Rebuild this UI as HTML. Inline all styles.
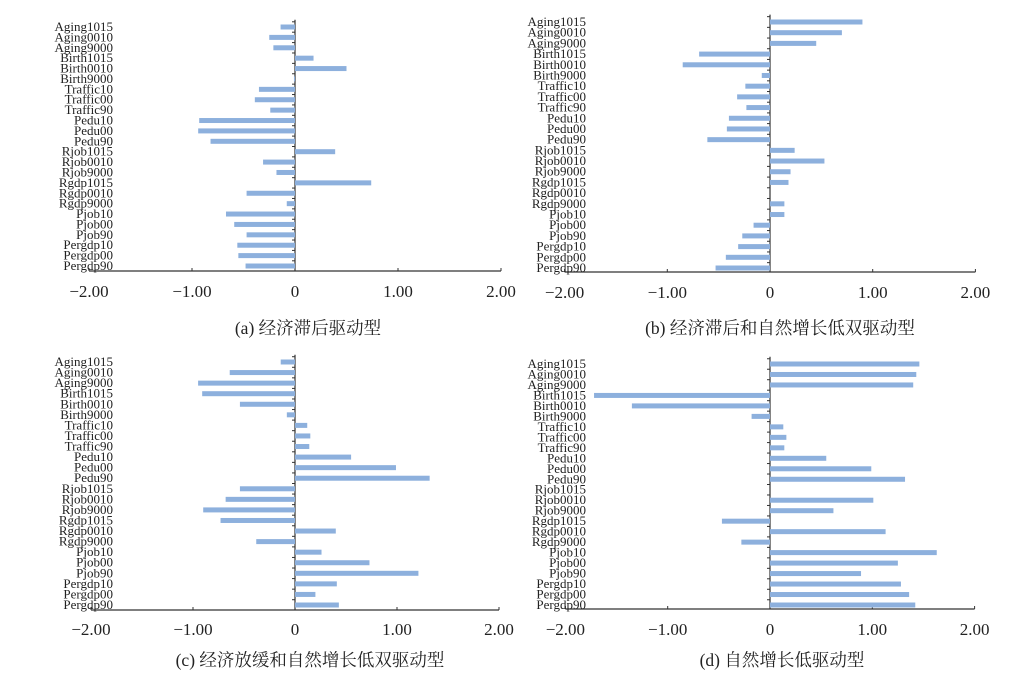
<!DOCTYPE html>
<html><head><meta charset="utf-8"><style>
body{margin:0;background:#fff}
svg{display:block}
text{font-family:"Liberation Serif","Noto Serif CJK SC",serif;fill:#222}
</style></head><body>
<svg id="s" width="1017" height="673" xmlns="http://www.w3.org/2000/svg"></svg>
<script>
const cats=["Aging1015","Aging0010","Aging9000","Birth1015","Birth0010","Birth9000","Traffic10","Traffic00","Traffic90","Pedu10","Pedu00","Pedu90","Rjob1015","Rjob0010","Rjob9000","Rgdp1015","Rgdp0010","Rgdp9000","Pjob10","Pjob00","Pjob90","Pergdp10","Pergdp00","Pergdp90"];
const P=[
{x0:295,u:103,ax:271,y1:27,y2:266,lx:113,ty:297,cx:308,cy:334,cap:"(a) 经济滞后驱动型",
v:[-0.14,-0.25,-0.21,0.18,0.50,-0.01,-0.35,-0.39,-0.24,-0.93,-0.94,-0.82,0.39,-0.31,-0.18,0.74,-0.47,-0.08,-0.67,-0.59,-0.47,-0.56,-0.55,-0.48]},
{x0:770,u:102.7,ax:272,y1:22,y2:268,lx:586,ty:298,cx:780,cy:334,cap:"(b) 经济滞后和自然增长低双驱动型",
v:[0.90,0.70,0.45,-0.69,-0.85,-0.08,-0.24,-0.32,-0.23,-0.40,-0.42,-0.61,0.24,0.53,0.20,0.18,0,0.14,0.14,-0.16,-0.27,-0.31,-0.43,-0.53]},
{x0:295,u:102,ax:610,y1:362,y2:605,lx:113,ty:635,cx:310,cy:666,cap:"(c) 经济放缓和自然增长低双驱动型",
v:[-0.14,-0.64,-0.95,-0.91,-0.54,-0.08,0.12,0.15,0.14,0.55,0.99,1.32,-0.54,-0.68,-0.90,-0.73,0.40,-0.38,0.26,0.73,1.21,0.41,0.20,0.43]},
{x0:770,u:102.3,ax:609,y1:364,y2:605,lx:586,ty:635,cx:782,cy:666,cap:"(d) 自然增长低驱动型",
v:[1.46,1.43,1.40,-1.72,-1.35,-0.18,0.13,0.16,0.14,0.55,0.99,1.32,0,1.01,0.62,-0.47,1.13,-0.28,1.63,1.25,0.89,1.28,1.36,1.42]}
];
let h="";
for(const p of P){
  const st=(p.y2-p.y1)/23;
  h+=`<line x1="${p.x0-2*p.u}" y1="${p.ax}" x2="${p.x0+2*p.u}" y2="${p.ax}" stroke="#333" stroke-width="1.2"/>`;
  h+=`<line x1="${p.x0}" y1="${p.y1-st/2-2}" x2="${p.x0}" y2="${p.ax}" stroke="#333" stroke-width="1.2"/>`;
  const labs=["\u22122.00","\u22121.00","0","1.00","2.00"];
  for(let k=-2;k<=2;k++){
    const x=p.x0+k*p.u;
    h+=`<line x1="${x}" y1="${p.ax}" x2="${x}" y2="${p.ax-3}" stroke="#333"/>`;
    h+=`<text x="${x}" y="${p.ty}" font-size="17" text-anchor="middle">${labs[k+2]}</text>`;
  }
  for(let i=0;i<24;i++){
    const y=p.y1+i*st;
    h+=`<line x1="${p.x0-3}" y1="${y-st/2}" x2="${p.x0}" y2="${y-st/2}" stroke="#333"/>`;
    const v=p.v[i];
    if(v!==0){const w=Math.abs(v)*p.u;const x=v<0?p.x0-w:p.x0;
    h+=`<rect x="${x}" y="${y-2.5}" width="${w}" height="5" fill="#8db0dd"/>`;}
    h+=`<text x="${p.lx}" y="${y+4}" font-size="13" text-anchor="end">${cats[i]}</text>`;
  }
  h+=`<text x="${p.cx}" y="${p.cy}" font-size="17.5" text-anchor="middle">${p.cap}</text>`;
}
document.getElementById("s").innerHTML=h;
</script>
</body></html>
